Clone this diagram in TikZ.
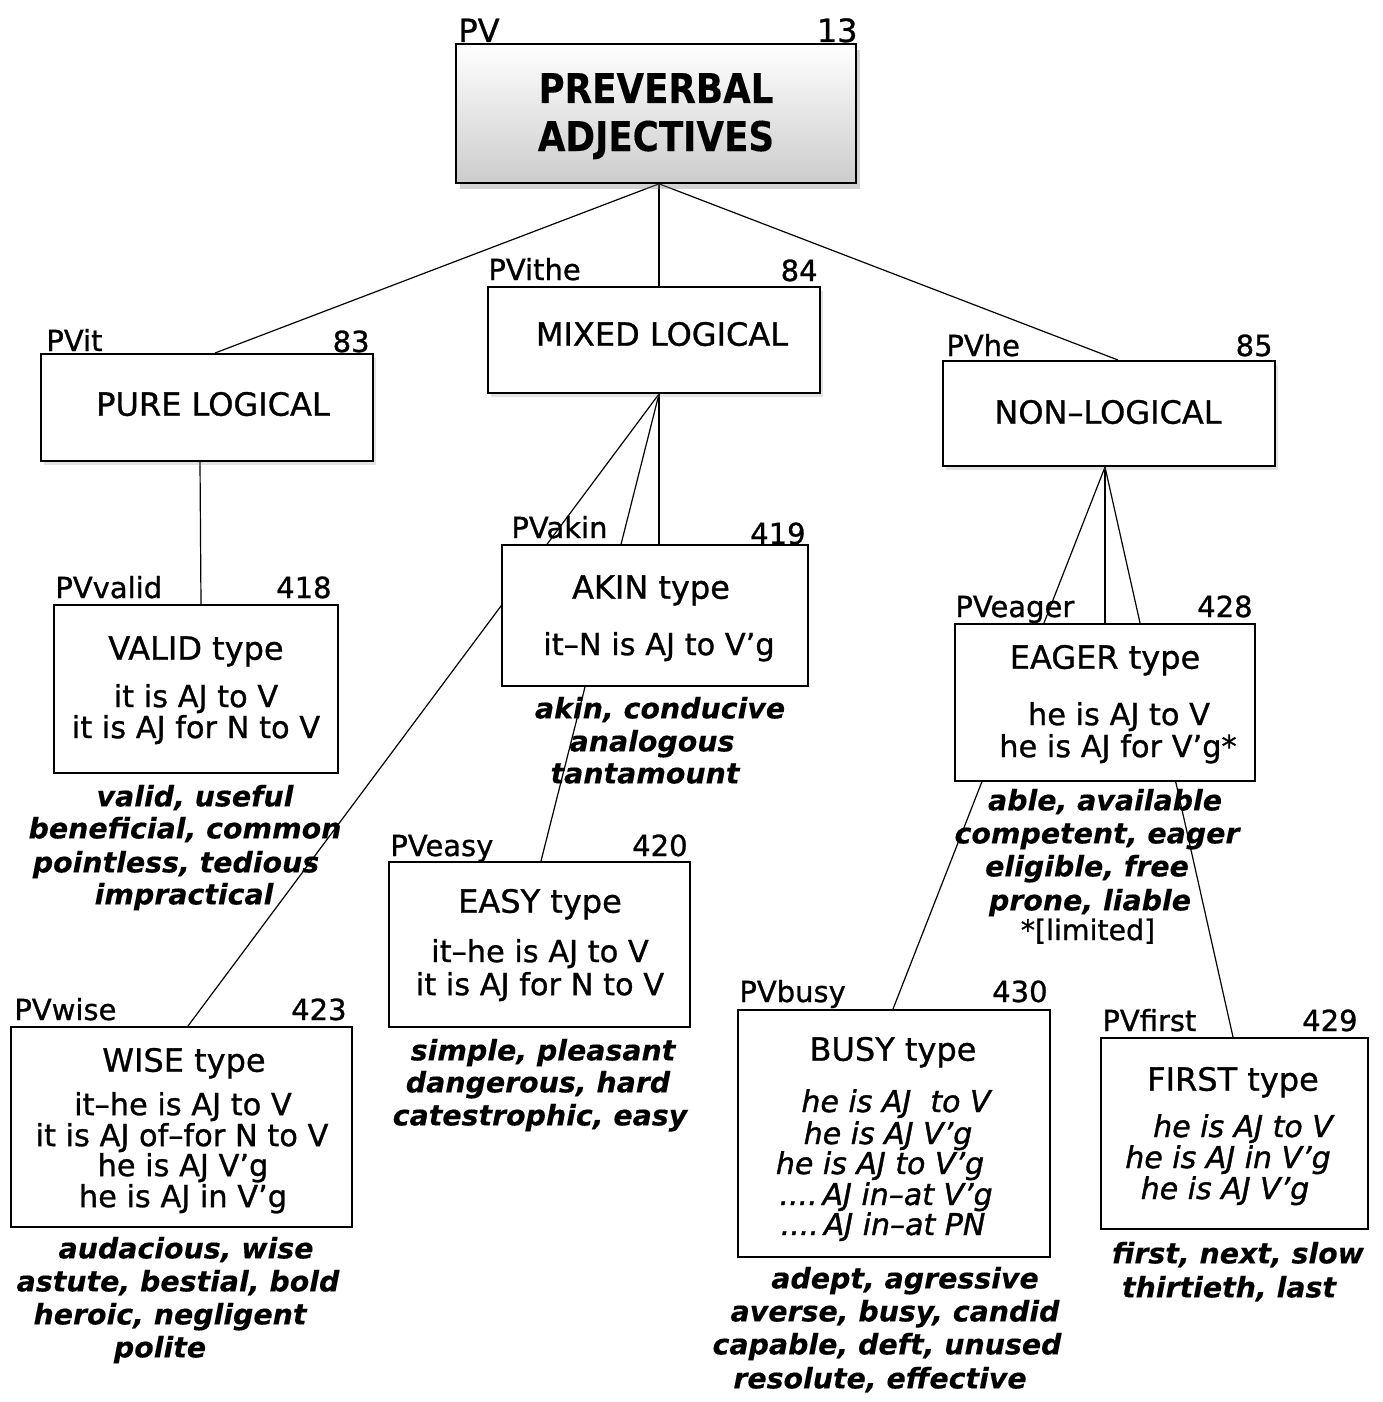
\documentclass[tikz,border=0pt]{standalone}
\usepackage{fontspec}
\setmainfont{DejaVu Sans}[FakeBold=0.9,
  BoldFont=DejaVu Sans Bold, BoldFeatures={FakeBold=0.3},
  ItalicFont=DejaVu Sans Oblique, ItalicFeatures={FakeBold=1.2},
  BoldItalicFont=DejaVu Sans Bold Oblique, BoldItalicFeatures={FakeBold=0.3}]
\usetikzlibrary{calc,shadows}
\pgfdeclarelayer{bg}
\pgfsetlayers{bg,main}
\begin{document}
\begin{tikzpicture}[x=0.5pt,y=-0.5pt,
  box/.style={draw, line width=1pt, fill=white, inner sep=0pt},
  topbox/.style={box, drop shadow={opacity=0.22, shadow xshift=1.5pt, shadow yshift=-2pt}},
  hd/.style={inner sep=0pt, font=\fontsize{16}{19}\selectfont, text height=11.7pt, text depth=0pt},
  ex/.style={inner sep=0pt, font=\fontsize{15.2}{18}\selectfont, text height=11.1pt, text depth=0pt},
  exi/.style={inner sep=0pt, font=\fontsize{15}{18}\selectfont\itshape, text height=11pt, text depth=0pt},
  lst/.style={inner sep=0pt, font=\fontsize{14.2}{17}\selectfont\bfseries\itshape, text height=10.4pt, text depth=0pt},
  lbl/.style={inner sep=0pt, font=\fontsize{14.5}{17}\selectfont},
  conn/.style={line width=0.6pt}
]
\useasboundingbox (0,0) rectangle (1382,1402);

% ---------- boxes ----------
\node[draw, line width=1.2pt, inner sep=0pt, top color=white, bottom color=gray!40,
      drop shadow={opacity=0.35, shadow xshift=2pt, shadow yshift=-3pt},
      minimum width=200pt, minimum height=69.5pt] (title) at (656,113.5) {};
\node[topbox, minimum width=166pt, minimum height=53pt]   (mixed) at (654,340) {};
\node[topbox, minimum width=166pt, minimum height=53.5pt] (pure)  at (207,407.5) {};
\node[topbox, minimum width=166pt, minimum height=52.5pt] (non)   at (1109,413.5) {};
\node[box, minimum width=142pt, minimum height=84pt]     (valid) at (196,689) {};
\node[box, minimum width=153pt, minimum height=70.5pt]   (akin)  at (655,615.5) {};
\node[box, minimum width=150.5pt, minimum height=82.5pt] (easy)  at (539.5,944.5) {};
\node[box, minimum width=170.5pt, minimum height=100pt]  (wise)  at (181.5,1127) {};
\node[box, minimum width=150pt, minimum height=78.5pt]   (eager) at (1105,702.5) {};
\node[box, minimum width=156pt, minimum height=123.5pt]  (busy)  at (894,1133.5) {};
\node[box, minimum width=133.5pt, minimum height=95.5pt] (first) at (1234.5,1133.5) {};

% ---------- connectors ----------
\begin{pgfonlayer}{bg}
\draw[conn] ($(title.south)+(2,0)$) -- ($(pure.north)+(8,0)$);
\draw[conn] ($(title.south)+(3,0)$) -- ($(mixed.north)+(5,0)$);
\draw[conn] ($(title.south)+(4,0)$) -- ($(non.north)+(9,0)$);
\draw[conn] ($(pure.south)+(-7,0)$) -- ($(valid.north)+(5,0)$);
\draw[conn] ($(mixed.south)+(5,0)$) -- ($(akin.north)+(4,0)$);
\draw[conn] ($(mixed.south)+(5,0)$) -- ($(easy.north)+(1.5,0)$);
\draw[conn] ($(mixed.south)+(5,0)$) -- ($(wise.north)+(6.5,0)$);
\draw[conn] ($(non.south)+(-4,0)$) -- (eager.north);
\draw[conn] ($(non.south)+(-4,0)$) -- ($(first.north)+(-1.5,0)$);
\draw[conn] ($(non.south)+(-4,0)$) -- ($(busy.north)+(-1,0)$);
\end{pgfonlayer}

% ---------- corner labels ----------
\node[lbl, font=\fontsize{16}{19}\selectfont, anchor=base west] (title-a) at (458,42) {PV};
\node[lbl, font=\fontsize{16}{19}\selectfont, anchor=base east] (title-b) at (858,42) {13};
\node[lbl, anchor=base west] (mixed-a) at (488,280) {PVithe};
\node[lbl, anchor=base east] (mixed-b) at (818,281) {84};
\node[lbl, anchor=base west] (pure-a) at (46,351) {PVit};
\node[lbl, anchor=base east] (pure-b) at (370,352) {83};
\node[lbl, anchor=base west] (non-a) at (946,356) {PVhe};
\node[lbl, anchor=base east] (non-b) at (1273,356) {85};
\node[lbl, anchor=base west] (valid-a) at (55,598) {PVvalid};
\node[lbl, anchor=base east] (valid-b) at (332,598) {418};
\node[lbl, anchor=base west] (akin-a) at (511,538) {PVakin};
\node[lbl, anchor=base east] (akin-b) at (806,544) {419};
\node[lbl, anchor=base west] (easy-a) at (390,856) {PVeasy};
\node[lbl, anchor=base east] (easy-b) at (688,856) {420};
\node[lbl, anchor=base west] (wise-a) at (14,1020) {PVwise};
\node[lbl, anchor=base east] (wise-b) at (347,1020) {423};
\node[lbl, anchor=base west] (eager-a) at (955,617) {PVeager};
\node[lbl, anchor=base east] (eager-b) at (1253,617) {428};
\node[lbl, anchor=base west] (busy-a) at (739,1002) {PVbusy};
\node[lbl, anchor=base east] (busy-b) at (1048,1002) {430};
\node[lbl, anchor=base west] (first-a) at (1102,1031) {PVfirst};
\node[lbl, anchor=base east] (first-b) at (1358,1031) {429};

% ---------- titles ----------
\node[inner sep=0pt, font=\fontsize{20.5}{24}\selectfont\bfseries, text height=15pt, text depth=0pt] (title-t1) at (656,88) {\scalebox{0.87}[1]{PREVERBAL}};
\node[inner sep=0pt, font=\fontsize{20.5}{24}\selectfont\bfseries, text height=15pt, text depth=0pt] (title-t2) at (656,136) {\scalebox{0.87}[1]{ADJECTIVES}};
\node[hd] (mixed-t) at (662,334) {MIXED LOGICAL};
\node[hd] (pure-t) at (213,404) {PURE LOGICAL};
\node[hd] (non-t) at (1108,412) {NON–LOGICAL};

% ---------- VALID ----------
\node[hd] (valid-t) at (196,648) {VALID type};
\node[ex] (valid-e1) at (196,696) {it is AJ to V};
\node[ex] (valid-e2) at (196,727) {it is AJ for N to V};
\foreach \y/\x/\t [count=\i] in {796/195/{valid, useful},828/185/{beneficial, common},862/176/{pointless, tedious},894/184/{impractical}}
  \node[lst] (valid-l\i) at (\x,\y) {\t};

% ---------- AKIN ----------
\node[hd] (akin-t) at (651,587) {AKIN type};
\node[ex] (akin-e1) at (659,644) {it–N is AJ to V'g};
\foreach \y/\x/\t [count=\i] in {708/660/{akin, conducive},741/652/{analogous},773/645/{tantamount}}
  \node[lst] (akin-l\i) at (\x,\y) {\t};

% ---------- EASY ----------
\node[hd] (easy-t) at (540,901) {EASY type};
\node[ex] (easy-e1) at (540,951) {it–he is AJ to V};
\node[ex] (easy-e2) at (540,984) {it is AJ for N to V};
\foreach \y/\x/\t [count=\i] in {1050/543/{simple, pleasant},1082/538/{dangerous, hard},1115/540/{catestrophic, easy}}
  \node[lst] (easy-l\i) at (\x,\y) {\t};

% ---------- WISE ----------
\node[hd] (wise-t) at (184,1060) {WISE type};
\node[ex] (wise-e1) at (183,1104) {it–he is AJ to V};
\node[ex] (wise-e2) at (182,1135) {it is AJ of–for N to V};
\node[ex] (wise-e3) at (183,1165) {he is AJ V'g};
\node[ex] (wise-e4) at (183,1196) {he is AJ in V'g};
\foreach \y/\x/\t [count=\i] in {1248/186/{audacious, wise},1281/178/{astute, bestial, bold},1314/170/{heroic, negligent},1347/160/{polite}}
  \node[lst] (wise-l\i) at (\x,\y) {\t};

% ---------- EAGER ----------
\node[hd] (eager-t) at (1105,657) {EAGER type};
\node[ex] (eager-e1) at (1119,714) {he is AJ to V};
\node[ex] (eager-e2) at (1118,746) {he is AJ for V'g*};
\foreach \y/\x/\t [count=\i] in {800/1105/{able, available},833/1097/{competent, eager},866/1087/{eligible, free},900/1090/{prone, liable}}
  \node[lst] (eager-l\i) at (\x,\y) {\t};
\node[ex, font=\fontsize{14.2}{17}\selectfont] (eager-n) at (1088,929) {*[limited]};

% ---------- BUSY ----------
\node[hd] (busy-t) at (893,1049) {BUSY type};
\node[exi] (busy-e1) at (896,1101) {he is AJ~~to V};
\node[exi] (busy-e2) at (888,1133) {he is AJ V'g};
\node[exi] (busy-e3) at (880,1163) {he is AJ to V'g};
\node[exi] (busy-e4) at (886,1194) {....\,AJ in–at V'g};
\node[exi] (busy-e5) at (883,1224) {....\,AJ in–at PN};
\foreach \y/\x/\t [count=\i] in {1278/905/{adept, agressive},1311/895/{averse, busy, candid},1344/887/{capable, deft, unused},1378/880/{resolute, effective}}
  \node[lst] (busy-l\i) at (\x,\y) {\t};

% ---------- FIRST ----------
\node[hd] (first-t) at (1233,1079) {FIRST type};
\node[exi] (first-e1) at (1243,1126) {he is AJ to V};
\node[exi] (first-e2) at (1228,1157) {he is AJ in V'g};
\node[exi] (first-e3) at (1225,1188) {he is AJ V'g};
\foreach \y/\x/\t [count=\i] in {1253/1238/{first, next, slow},1287/1229/{thirtieth, last}}
  \node[lst] (first-l\i) at (\x,\y) {\t};

\end{tikzpicture}
\end{document}
